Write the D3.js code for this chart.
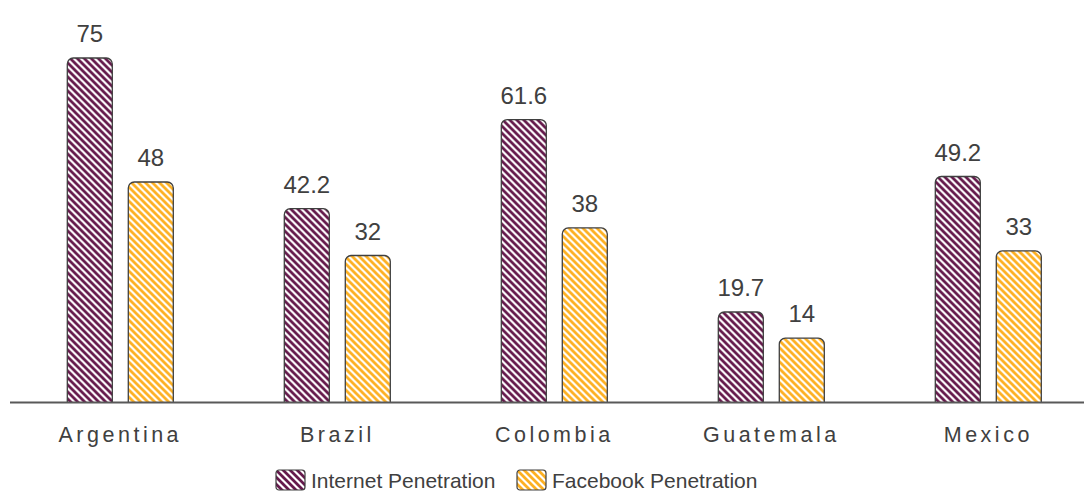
<!DOCTYPE html>
<html>
<head>
<meta charset="utf-8">
<script src="https://cdn.jsdelivr.net/npm/d3@7"></script>
<style>
  html, body { margin: 0; padding: 0; background: #fff; }
  svg { display: block; font-family: "Liberation Sans", Arial, sans-serif; }
</style>
</head>
<body>
<svg id="chart" width="1084" height="493"></svg>
<script>
const categories = ["Argentina", "Brazil", "Colombia", "Guatemala", "Mexico"];
const seriesNames = ["Internet Penetration", "Facebook Penetration"];
const internetValues = [75, 42.2, 61.6, 19.7, 49.2];
const facebookValues = [48, 32, 38, 14, 33];
const seriesColors = ["#651a4c", "#fdb022"];

const svg = d3.select("#chart");
const W = 1084, H = 493;
const baseY = 402.5;

const data = categories.map((c, i) => ({
  cat: c,
  vals: [internetValues[i], facebookValues[i]]
}));

// patterns
const defs = svg.append("defs");
seriesColors.forEach((col, i) => {
  const p = defs.append("pattern")
    .attr("id", "pat" + i)
    .attr("patternUnits", "userSpaceOnUse")
    .attr("width", 7).attr("height", 7);
  p.append("rect").attr("width", 7).attr("height", 7).attr("fill", "#fff");
  p.append("path")
    .attr("d", "M-1,-1 L8,8 M-1,6 L1,8 M6,-1 L8,1")
    .attr("stroke", col).attr("stroke-width", 2.8).attr("stroke-linecap", "square");
});

const x = d3.scaleBand().domain(categories).range([11.8, 1096.8]).paddingInner(0).paddingOuter(0);
const bw = x.bandwidth();
const groupW = 106;
const x1 = d3.scaleBand().domain([0, 1])
  .range([bw / 2 - groupW / 2, bw / 2 + groupW / 2])
  .paddingInner(0.262).paddingOuter(0);

const y = d3.scaleLinear().domain([0, 75]).range([baseY, 58]);

const g = svg.append("g");

const groups = g.selectAll("g.grp").data(data).join("g")
  .attr("class", "grp")
  .attr("transform", d => `translate(${x(d.cat)},0)`);

groups.selectAll("rect.bar").data(d => d.vals.map((v, i) => ({ v, i }))).join("rect")
  .attr("class", "bar")
  .attr("x", d => x1(d.i))
  .attr("width", x1.bandwidth())
  .attr("y", d => y(d.v))
  .attr("height", d => baseY - y(d.v) + 6)
  .attr("rx", 6).attr("ry", 6)
  .attr("fill", d => `url(#pat${d.i})`)
  .attr("stroke", "#3f3f3f")
  .attr("stroke-width", 1.3);

groups.selectAll("text.val").data(d => d.vals.map((v, i) => ({ v, i }))).join("text")
  .attr("class", "val")
  .attr("x", d => x1(d.i) + x1.bandwidth() / 2)
  .attr("y", d => y(d.v) - 16)
  .attr("text-anchor", "middle")
  .attr("font-size", 24)
  .attr("fill", "#404040")
  .text(d => d.v);

// cover bottom of bars below axis
svg.append("rect").attr("x", 0).attr("y", baseY).attr("width", W).attr("height", 12).attr("fill", "#fff");

// axis
const xAxis = d3.axisBottom(x).tickSize(0).tickPadding(0);
const axG = svg.append("g").attr("transform", `translate(0,${baseY})`).call(xAxis);
axG.select(".domain").remove();
axG.selectAll("text")
  .attr("y", 39)
  .attr("dy", 0)
  .attr("font-size", 21.5)
  .attr("fill", "#404040")
  .attr("letter-spacing", "3.5px")
  .attr("font-family", "Liberation Sans, Arial, sans-serif");
svg.append("line")
  .attr("x1", 10).attr("x2", 1084)
  .attr("y1", baseY).attr("y2", baseY)
  .attr("stroke", "#595959").attr("stroke-width", 2);

// legend
const legendItems = [
  { name: seriesNames[0], i: 0, x: 276 },
  { name: seriesNames[1], i: 1, x: 517 }
];
const lg = svg.append("g");
const li = lg.selectAll("g").data(legendItems).join("g")
  .attr("transform", d => `translate(${d.x},470)`);
li.append("rect")
  .attr("width", 29).attr("height", 20).attr("rx", 3)
  .attr("fill", d => `url(#pat${d.i})`)
  .attr("stroke", "#3f3f3f").attr("stroke-width", 1.2);
li.append("text")
  .attr("x", 35).attr("y", 18)
  .attr("font-size", 21).attr("fill", "#404040")
  .text(d => d.name);
</script>
</body>
</html>
